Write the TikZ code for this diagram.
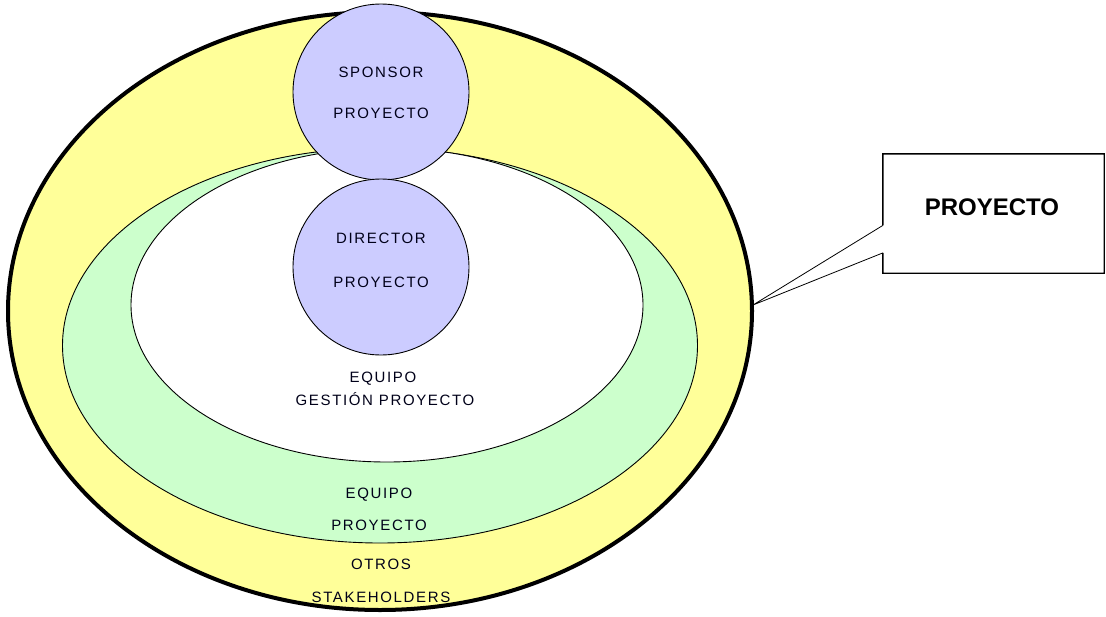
\documentclass[tikz,border=0pt]{standalone}
\usepackage{fontspec}
\setmainfont{Liberation Sans}
\usetikzlibrary{shapes.geometric,calc}
\definecolor{stakeyellow}{HTML}{FFFF99}
\definecolor{teamgreen}{HTML}{CCFFCC}
\definecolor{rolelilac}{HTML}{CCCCFF}
\newfontfamily\labelfont[LetterSpace=11]{Liberation Sans}
\tikzset{
  ring/.style={ellipse, draw=black, inner sep=0pt},
  role/.style={circle, draw=black, line width=0.9pt, fill=rolelilac, inner sep=0pt, minimum size=176pt},
  lbl/.style={font=\labelfont\fontsize{15}{15}\selectfont, text=black!90!blue, inner sep=0pt, anchor=base},
  callout/.style={line width=1.4pt, line join=miter},
}
\begin{document}
\begin{tikzpicture}[x=1pt,y=-1pt]
\useasboundingbox (0,0) rectangle (1106,616);
\fill[white] (0,0) rectangle (1106,616);

% nested stakeholder rings
\node[ring, line width=4pt, fill=stakeyellow, minimum width=744pt, minimum height=598pt] (others) at (380,311) {};
\node[ring, line width=0.9pt, fill=teamgreen, minimum width=635pt, minimum height=395pt] (team) at (380,345.5) {};
\node[ring, line width=0.9pt, fill=white, minimum width=512pt, minimum height=314pt] (mgmt) at (387,305) {};

% key roles
\node[role] (sponsor) at (381,92) {};
\node[role] (director) at (381,267) {};

% labels
\node[lbl] (t1) at (381,77) {SPONSOR};
\node[lbl] (t2) at (381,118.5) {PROYECTO};
\node[lbl] (t3) at (381,243.5) {DIRECTOR};
\node[lbl] (t4) at (381,287.5) {PROYECTO};
\node[lbl] (t5) at (383,382.5) {EQUIPO};
\node[lbl] (t6) at (385,405.5) {GESTIÓN PROYECTO};
\node[lbl] (t7) at (379,498.5) {EQUIPO};
\node[lbl] (t8) at (379,530.5) {PROYECTO};
\node[lbl] (t9) at (381,569.5) {OTROS};
\node[lbl] (t10) at (381,602.5) {STAKEHOLDERS};

% callout
\node[minimum width=221pt, minimum height=119pt, inner sep=0pt] (box) at (993.5,213.5) {};
\node[font=\bfseries\fontsize{24}{24}\selectfont, inner sep=0pt] (boxtext) at (992,207) {PROYECTO};
\coordinate (tip) at (753,305);
\coordinate (ga) at ($(box.north west)!0.6!(box.south west)$);
\coordinate (gb) at ($(box.north west)!0.83!(box.south west)$);
\draw[callout] (ga) -- (box.north west) -- (box.north east) -- (box.south east) -- (box.south west) -- (gb);
\draw[line width=0.8pt] (ga) -- (tip) -- (gb);
\end{tikzpicture}
\end{document}
